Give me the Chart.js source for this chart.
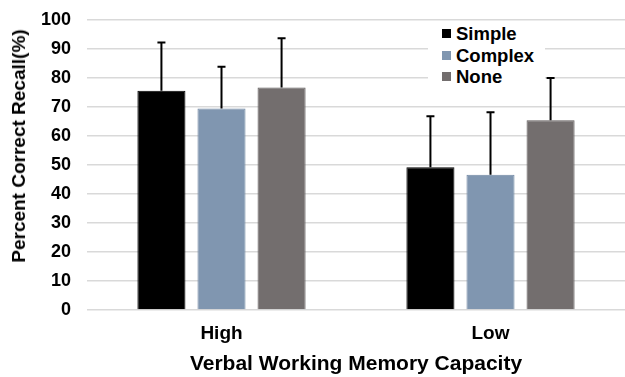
<!DOCTYPE html>
<html>
<head>
<meta charset="utf-8">
<script src="https://cdn.jsdelivr.net/npm/chart.js@4"></script>
<style>
  html, body { margin: 0; padding: 0; background: #fff; overflow: hidden; }
  #wrap { position: relative; width: 625px; height: 377px; }
  #legend {
    position: absolute; left: 428px; top: 23px; width: 117px; height: 64px;
    background: #fff; font: bold 18.5px "Liberation Sans", Arial, sans-serif; color: #000;
  }
  #legend div { height: 21.5px; line-height: 21.5px; padding-left: 14px; }
  #legend span { display: inline-block; width: 9px; height: 9px; margin-right: 5px; vertical-align: 2px; }
  #ytitle {
    position: absolute; left: 18.5px; top: 146px; white-space: nowrap;
    transform: translate(-50%, -50%) rotate(-90deg);
    font: bold 19px "Liberation Sans", Arial, sans-serif; color: #000;
  }
</style>
</head>
<body>
<div id="wrap">
  <canvas id="chart-1" width="625" height="377"></canvas>
  <div id="legend"></div>
  <div id="ytitle">Percent Correct Recall(%)</div>
</div>
<script>
const categories = ['High', 'Low'];
const seriesNames = ['Simple', 'Complex', 'None'];
const simpleVals = [75.6, 49.2];
const complexVals = [69.5, 46.6];
const noneVals = [76.7, 65.4];
const simpleErr = [16.6, 17.6];
const complexErr = [14.4, 21.6];
const noneErr = [17.0, 14.6];
const yTicks = [0, 10, 20, 30, 40, 50, 60, 70, 80, 90, 100];

const colors = ['#000000', '#8096b0', '#736e6e'];
const borders = ['#000000', '#6f86a2', '#5e5a5a'];

const font = "'Liberation Sans', Arial, sans-serif";

// upward error bars drawn through the chart's own scales
const errorBars = {
    id: 'errorBars',
    afterDatasetsDraw(chart) {
        const errs = [simpleErr, complexErr, noneErr];
        const c = chart.ctx;
        const y = chart.scales.y;
        c.save();
        c.strokeStyle = '#000';
        c.lineWidth = 2;
        chart.data.datasets.forEach((ds, i) => {
            chart.getDatasetMeta(i).data.forEach((bar, j) => {
                const top = y.getPixelForValue(ds.data[j] + errs[i][j]);
                c.beginPath();
                c.moveTo(bar.x, bar.y);
                c.lineTo(bar.x, top);
                c.moveTo(bar.x - 4, top);
                c.lineTo(bar.x + 4, top);
                c.stroke();
            });
        });
        c.restore();
    }
};

const ctx = document.getElementById('chart-1').getContext('2d');

var data = {
    labels: categories,
    datasets: [
        { label: seriesNames[0], data: simpleVals, backgroundColor: colors[0], borderColor: borders[0], borderWidth: 1 },
        { label: seriesNames[1], data: complexVals, backgroundColor: colors[1], borderColor: borders[1], borderWidth: 1 },
        { label: seriesNames[2], data: noneVals, backgroundColor: colors[2], borderColor: borders[2], borderWidth: 1 }
    ]
};

var myBarChart = new Chart(ctx, {
    type: 'bar',
    data: data,
    plugins: [errorBars],
    options: {
        responsive: false,
        animation: false,
        categoryPercentage: 0.67,
        barPercentage: 0.8,
        layout: { padding: { top: 20, right: 0, left: 0, bottom: 0 } },
        plugins: {
            legend: { display: false },
            tooltip: { enabled: false }
        },
        scales: {
            x: {
                grid: { display: false },
                border: { display: false },
                ticks: { color: '#000', font: { family: font, size: 19, weight: 'bold' }, padding: 4 },
                title: {
                    display: true, text: 'Verbal Working Memory Capacity', color: '#000',
                    font: { family: font, size: 21, weight: 'bold' }, padding: { top: 4, bottom: 0 }
                },
                afterFit(s) { s.height = 67; }
            },
            y: {
                min: 0, max: 100,
                afterBuildTicks(s) { s.ticks = yTicks.map(v => ({ value: v })); },
                grid: { color: '#d9d9d9', lineWidth: 1.5, drawTicks: false },
                border: { display: false },
                ticks: { color: '#000', font: { family: font, size: 18, weight: 'bold' }, padding: 16 },
                afterFit(s) { s.width = 87; s.paddingTop = 0; s.paddingBottom = 0; }
            }
        }
    }
});

document.getElementById('legend').innerHTML = seriesNames
    .map((n, i) => '<div><span style="background:' + colors[i] + '"></span>' + n + '</div>')
    .join('');
</script>
</body>
</html>
